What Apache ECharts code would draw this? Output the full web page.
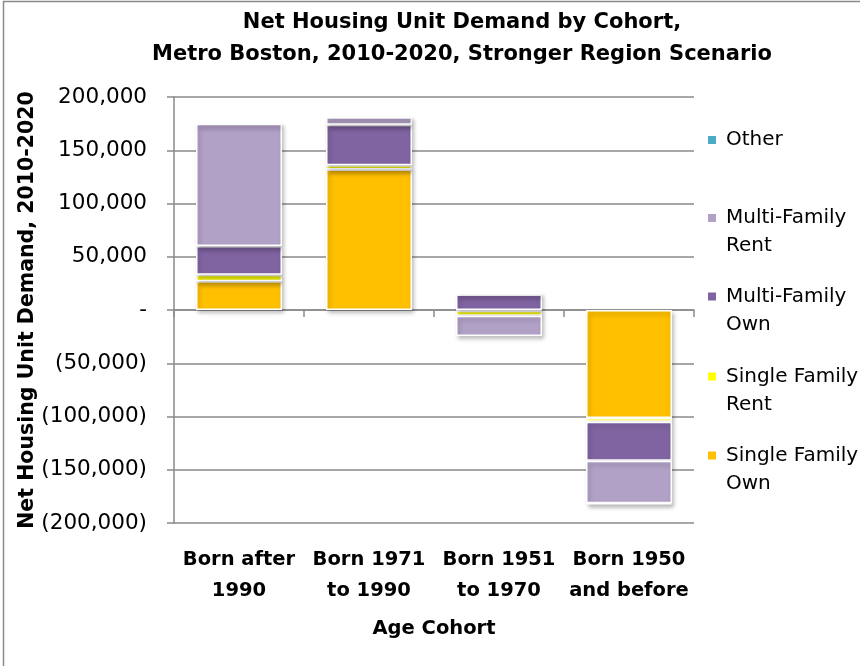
<!DOCTYPE html>
<html>
<head>
    <meta charset="utf-8" />
    <script src="https://cdn.jsdelivr.net/npm/echarts@6.0.0/dist/echarts.min.js"></script>
    <style>
        body { margin: 0; overflow: hidden; background: #fff; }
        #main { width: 860px; height: 666px; }
    </style>
</head>
<body>
    <div id="main"></div>
<script type="text/javascript">
    // cohorts on the x axis
    var categories = ['Born after\n1990', 'Born 1971\nto 1990', 'Born 1951\nto 1970', 'Born 1950\nand before'];
    // net housing units by tenure
    var sfOwn = [27000, 132000, -800, -101500];   // Single Family Own
    var sfRent = [6000, 4000, -4500, -3500];      // Single Family Rent
    var mfOwn = [27000, 38000, 14500, -36500];    // Multi-Family Own
    var mfRent = [115000, 7000, -19000, -40000];  // Multi-Family Rent
    var other = [0, 0, 2000, -1000];              // Other

    var FONT = 'DejaVu Sans';
    var gray = '#8a8a8a';

    function fmt(v) {
        if (v === 0) return '-';
        var s = Math.abs(v).toLocaleString('en-US');
        return v < 0 ? '(' + s + ')' : s;
    }

    function bar(name, data, color) {
        return {
            name: name,
            type: 'bar',
            stack: 'total',
            barWidth: 86,
            data: data,
            itemStyle: {
                color: color,
                borderColor: '#fff',
                borderWidth: 1.5,
                shadowColor: 'rgba(0,0,0,0.25)',
                shadowBlur: 4,
                shadowOffsetX: 2,
                shadowOffsetY: 3
            }
        };
    }

    // one legend per entry so the slots match the original spacing;
    // two-line names get a blank first line so the marker sits on the first text line
    function legendItem(name, top, twoLine) {
        return {
            data: [name],
            orient: 'vertical',
            left: 706,
            top: top,
            padding: 0,
            itemWidth: 10,
            itemHeight: 10,
            icon: 'rect',
            formatter: function (n) { return twoLine ? ' \n' + n : n; },
            textStyle: {
                fontFamily: FONT,
                fontSize: 20,
                color: '#000',
                lineHeight: 28,
                padding: [0, 0, 0, 4]
            }
        };
    }

    var chart = echarts.init(document.getElementById('main'));
    chart.setOption({
        animation: false,
        title: {
            text: 'Net Housing Unit Demand by Cohort,\nMetro Boston, 2010-2020, Stronger Region Scenario',
            left: 457,
            top: 2,
            textAlign: 'center',
            textStyle: {
                fontFamily: FONT,
                fontSize: 21,
                fontWeight: 'bold',
                color: '#000',
                lineHeight: 32
            }
        },
        graphic: [{
            type: 'rect',
            shape: { x: 3.5, y: 1.5, width: 900, height: 700 },
            style: { fill: 'none', stroke: gray, lineWidth: 1.5 },
            silent: true
        }],
        legend: [
            legendItem('Other', 126, false),
            legendItem('Multi-Family\nRent', 176, true),
            legendItem('Multi-Family\nOwn', 254.5, true),
            legendItem('Single Family\nRent', 334.5, true),
            legendItem('Single Family\nOwn', 413.5, true)
        ],
        grid: {
            left: 174,
            right: 166,
            top: 97,
            bottom: 143,
            outerBoundsMode: 'none',
            containLabel: false
        },
        xAxis: {
            type: 'category',
            data: categories,
            name: 'Age Cohort',
            nameLocation: 'middle',
            nameGap: 96,
            nameTextStyle: { fontFamily: FONT, fontSize: 19.5, fontWeight: 'bold', color: '#000' },
            axisLine: { onZero: true, lineStyle: { color: gray, width: 1.5 } },
            axisTick: { show: true, length: 7, lineStyle: { color: gray, width: 1.5 } },
            axisLabel: {
                fontFamily: FONT,
                fontSize: 19.5,
                fontWeight: 'bold',
                color: '#000',
                lineHeight: 31,
                margin: 21,
                interval: 0
            }
        },
        yAxis: {
            type: 'value',
            min: -200000,
            max: 200000,
            interval: 50000,
            name: 'Net Housing Unit Demand, 2010-2020',
            nameLocation: 'middle',
            nameGap: 136,
            nameMoveOverlap: false,
            nameTextStyle: { fontFamily: FONT, fontSize: 20.5, fontWeight: 'bold', color: '#000' },
            axisLine: { show: true, lineStyle: { color: gray, width: 1.5 } },
            axisTick: { show: true, length: 7, lineStyle: { color: gray, width: 1.5 } },
            splitLine: { lineStyle: { color: gray, width: 1.5 } },
            axisLabel: {
                fontFamily: FONT,
                fontSize: 21.5,
                color: '#000',
                margin: 27,
                formatter: fmt
            }
        },
        series: [
            bar('Single Family\nOwn', sfOwn, '#FFC000'),
            bar('Single Family\nRent', sfRent, '#FFFF00'),
            bar('Multi-Family\nOwn', mfOwn, '#8064A2'),
            bar('Multi-Family\nRent', mfRent, '#B2A1C7'),
            bar('Other', other, '#4BACC6')
        ]
    });
</script>
</body>
</html>
